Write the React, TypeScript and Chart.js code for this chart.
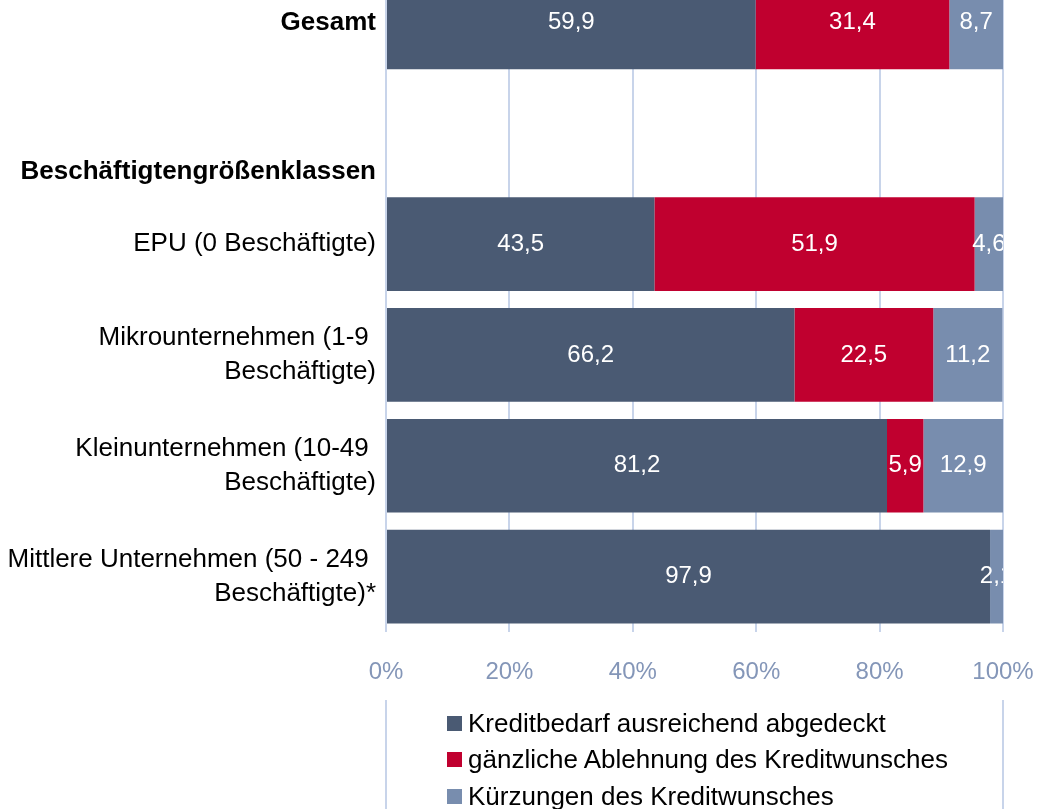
import React, { useEffect, useRef } from 'react';
import { Chart, registerables } from 'chart.js';

Chart.register(...registerables);

const FONT = '"Liberation Sans", Arial, sans-serif';

const categories: (string | string[])[] = [
  'Gesamt',
  ['', '', 'Beschäftigtengrößenklassen'],
  'EPU (0 Beschäftigte)',
  ['Mikrounternehmen (1-9 ', 'Beschäftigte)'],
  ['Kleinunternehmen (10-49 ', 'Beschäftigte)'],
  ['Mittlere Unternehmen (50 - 249 ', 'Beschäftigte)*'],
];
const boldRows = [0, 1];

const seriesNames = [
  'Kreditbedarf ausreichend abgedeckt',
  'gänzliche Ablehnung des Kreditwunsches',
  'Kürzungen des Kreditwunsches',
];
const abgedeckt = [59.9, null, 43.5, 66.2, 81.2, 97.9];
const ablehnung = [31.4, null, 51.9, 22.5, 5.9, null];
const kuerzung = [8.7, null, 4.6, 11.2, 12.9, 2.1];
const xTickValues = [0, 20, 40, 60, 80, 100];

const seriesColors = ['#4a5a73', '#c0002f', '#788dae'];
const gridColor = '#c8d4ea';
const tickColor = '#8496b8';

const valueLabelPlugin = {
  id: 'valueLabels',
  afterDatasetsDraw(chart: any) {
    const ctx = chart.ctx;
    const a = chart.chartArea;
    ctx.save();
    ctx.beginPath();
    ctx.rect(a.left, a.top, a.right - a.left, a.bottom - a.top);
    ctx.clip();
    ctx.font = `24px ${FONT}`;
    ctx.fillStyle = '#ffffff';
    ctx.textAlign = 'center';
    ctx.textBaseline = 'middle';
    chart.data.datasets.forEach((ds: any, i: number) => {
      const meta = chart.getDatasetMeta(i);
      meta.data.forEach((el: any, j: number) => {
        const v = ds.data[j];
        if (v == null || v === 0) return;
        const p = el.getProps(['x', 'y', 'base'], true);
        ctx.fillText(v.toFixed(1).replace('.', ','), (p.x + p.base) / 2, p.y);
      });
    });
    ctx.restore();
  },
};

const legendLinesPlugin = {
  id: 'legendLines',
  afterDraw(chart: any) {
    const ctx = chart.ctx;
    const xs = chart.scales.x;
    ctx.save();
    ctx.strokeStyle = gridColor;
    ctx.lineWidth = 2;
    [xTickValues[0], xTickValues[xTickValues.length - 1]].forEach((v) => {
      const px = Math.round(xs.getPixelForValue(v));
      ctx.beginPath();
      ctx.moveTo(px, xs.bottom);
      ctx.lineTo(px, chart.height);
      ctx.stroke();
    });
    ctx.restore();
  },
};

export default function App() {
  const ref = useRef<HTMLCanvasElement | null>(null);

  useEffect(() => {
    document.body.style.overflow = 'hidden';
    const canvas = ref.current!;
    const chart = new Chart(canvas, {
      type: 'bar',
      data: {
        labels: categories as any,
        datasets: [
          { label: seriesNames[0], data: abgedeckt as any, backgroundColor: seriesColors[0] },
          { label: seriesNames[1], data: ablehnung as any, backgroundColor: seriesColors[1] },
          { label: seriesNames[2], data: kuerzung as any, backgroundColor: seriesColors[2] },
        ],
      },
      options: {
        indexAxis: 'y',
        responsive: false,
        animation: false,
        devicePixelRatio: 1,
        layout: { padding: { top: 7, left: 0, right: 35, bottom: 109 } },
        datasets: { bar: { categoryPercentage: 1, barPercentage: 0.845 } },
        plugins: {
          legend: { display: false },
          tooltip: { enabled: false },
        },
        scales: {
          x: {
            stacked: true,
            min: 0,
            max: 100,
            grid: { color: gridColor, lineWidth: 2, drawTicks: false },
            border: { display: false },
            ticks: {
              stepSize: 20,
              color: tickColor,
              padding: 26,
              font: { family: FONT, size: 24 },
              callback: (v: any) => `${v}%`,
            },
            afterBuildTicks: (scale: any) => {
              scale.ticks = xTickValues.map((v) => ({ value: v }));
            },
            afterFit: (scale: any) => {
              scale.height = 68;
              scale.paddingLeft = 0;
              scale.paddingRight = 0;
            },
          },
          y: {
            stacked: true,
            grid: { display: false, drawTicks: false },
            border: { display: false },
            ticks: {
              color: '#000000',
              padding: 10,
              autoSkip: false,
              font: (c: any) => ({
                family: FONT,
                size: 26,
                lineHeight: c.index === 1 ? 1.5 : 1.31,
                weight: boldRows.includes(c.index) ? 'bold' : 'normal',
              }),
            },
            afterFit: (scale: any) => {
              scale.width = 386;
              scale.paddingTop = 0;
              scale.paddingBottom = 0;
            },
          },
        },
      } as any,
      plugins: [valueLabelPlugin, legendLinesPlugin],
    });
    return () => chart.destroy();
  }, []);

  return (
    <div style={{ position: 'absolute', left: 0, top: -40, width: 1038, height: 849 }}>
      <canvas ref={ref} width={1038} height={849} style={{ width: 1038, height: 849, display: 'block' }} />
      <div
        style={{
          position: 'absolute',
          left: 447,
          top: 745,
          fontFamily: FONT,
          fontSize: 26,
          color: '#000',
        }}
      >
        {seriesNames.map((n, i) => (
          <div key={n} style={{ display: 'flex', alignItems: 'center', height: 36.5, whiteSpace: 'nowrap' }}>
            <span style={{ width: 15, height: 15, background: seriesColors[i], marginRight: 6, flex: 'none' }} />
            <span>{n}</span>
          </div>
        ))}
      </div>
    </div>
  );
}
